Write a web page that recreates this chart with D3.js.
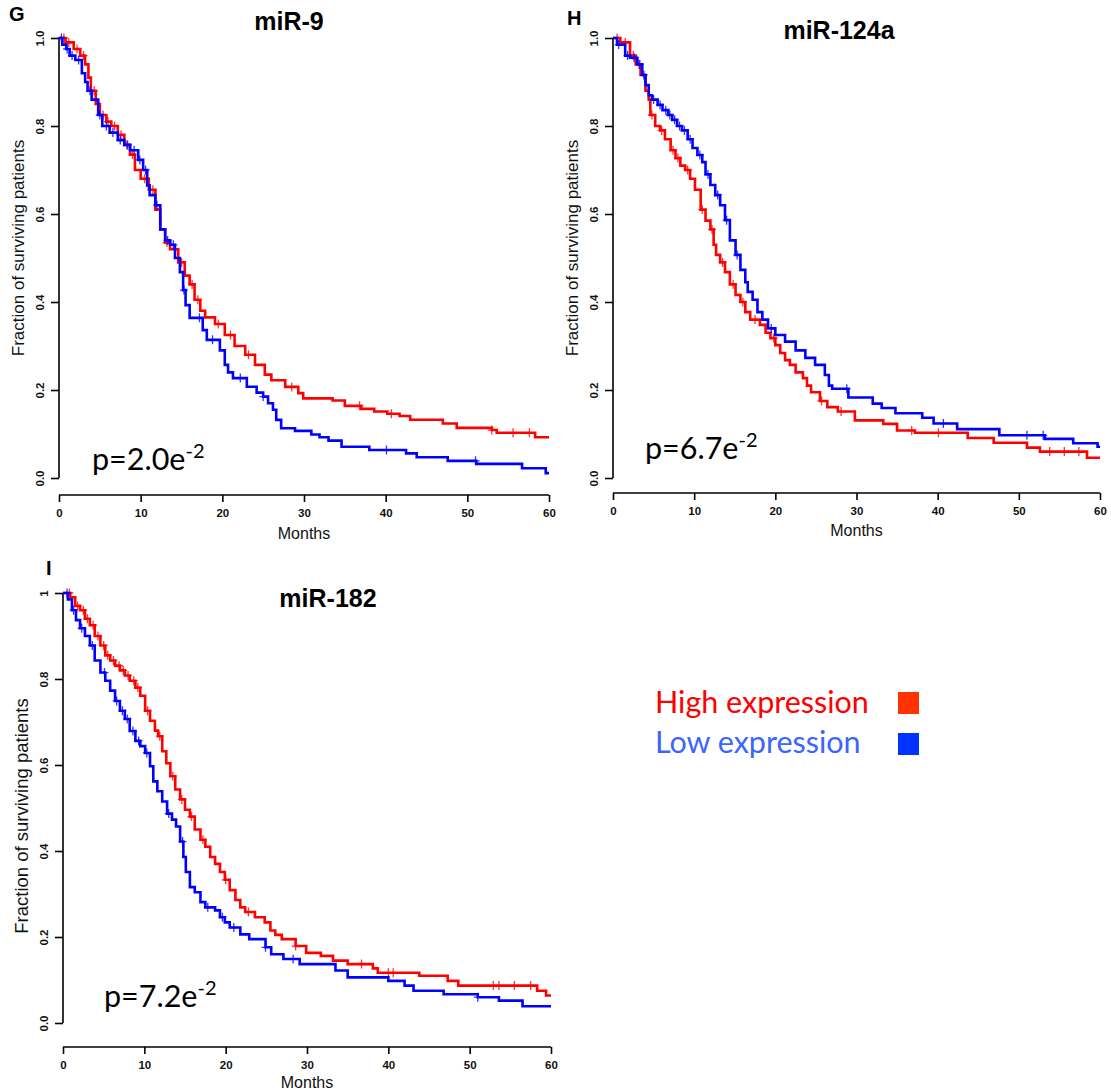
<!DOCTYPE html>
<html>
<head>
<meta charset="utf-8">
<script src="https://cdn.jsdelivr.net/npm/d3@7"></script>
<style>
  body { margin: 0; background: #fff; }
  svg { display: block; }
</style>
</head>
<body>
<svg id="chart" width="1111" height="1092"></svg>
<script>
// x axis ticks (months) and y ticks
const monthTicks = [0, 10, 20, 30, 40, 50, 60]
const fracTicks = [0, 0.2, 0.4, 0.6, 0.8, 1]
const fracLabelsA = ['0.0', '0.2', '0.4', '0.6', '0.8', '1.0']
const fracLabelsB = ['0.0', '0.2', '0.4', '0.6', '0.8', '1']

// miR-9 : [month, survival] after each drop
const mir9High = [[0,1],[0.8,0.99],[1.8,0.975],[2.6,0.96],[3.2,0.94],[3.6,0.91],[3.9,0.88],[4.5,0.85],[5,0.825],[5.8,0.81],[6.4,0.8],[7.2,0.78],[8,0.757],[8.7,0.735],[9.3,0.7],[10,0.68],[11,0.655],[11.8,0.61],[12.4,0.565],[13,0.535],[13.6,0.52],[14.6,0.49],[15.4,0.46],[16,0.44],[16.6,0.405],[17.3,0.38],[17.9,0.365],[19.1,0.35],[20.3,0.325],[21.5,0.3],[22.8,0.28],[24,0.257],[25.2,0.235],[26,0.222],[27.7,0.207],[29.3,0.193],[29.9,0.181],[33.5,0.176],[35,0.164],[37,0.157],[38.6,0.151],[40.2,0.146],[41.7,0.141],[43,0.1325],[47,0.124],[48.7,0.114],[53,0.109],[53.6,0.103],[58.3,0.0925]]
const mir9HighCens = [0.6,1.2,2.2,3.0,4.3,5.4,6.0,6.8,7.6,8.3,9.0,10.5,11.5,13.2,14.2,15.0,16.3,17.0,19.5,21.0,23.2,28.5,36.8,40.7,53.0,55.6,57.6]
const mir9Low = [[0,1],[0.4,0.985],[0.9,0.975],[1.3,0.96],[2,0.95],[2.8,0.92],[3.2,0.9],[3.5,0.88],[4,0.86],[4.8,0.825],[5.3,0.8],[6.2,0.785],[7.2,0.768],[8,0.757],[8.7,0.745],[9.7,0.723],[10.3,0.7],[10.8,0.665],[11.1,0.643],[11.8,0.62],[12.4,0.565],[13,0.54],[13.6,0.53],[14.2,0.5],[14.8,0.468],[15.2,0.427],[15.5,0.393],[16,0.364],[17.6,0.336],[18.1,0.314],[19.7,0.29],[20.3,0.257],[20.7,0.24],[21.3,0.227],[23,0.2075],[24.2,0.194],[25,0.185],[25.6,0.17],[26.2,0.155],[26.6,0.132],[27.2,0.113],[28.9,0.107],[30.9,0.099],[31.9,0.0925],[33,0.085],[34.6,0.071],[38,0.0636],[42.5,0.056],[43.8,0.047],[47.6,0.039],[51.1,0.032],[56.7,0.022],[59.6,0.011]]
const mir9LowCens = [0.3,1.0,1.6,2.4,3.8,5.0,5.8,6.6,7.5,8.4,9.2,9.9,10.6,12.0,13.3,14.0,15.3,17.2,18.8,22.2,25.0,40.1,51.0]

// miR-124a
const mir124High = [[0,1],[0.9,0.99],[2.1,0.96],[2.8,0.94],[3.4,0.916],[4,0.88],[4.4,0.86],[4.6,0.825],[5.2,0.8],[5.8,0.79],[6.4,0.77],[7.1,0.745],[7.7,0.727],[8.3,0.71],[8.9,0.7],[9.5,0.68],[10.1,0.655],[10.8,0.61],[11.4,0.585],[12,0.565],[12.4,0.53],[12.7,0.507],[13.2,0.49],[13.8,0.468],[14.4,0.44],[15.1,0.416],[15.7,0.4],[16.3,0.377],[16.9,0.36],[18.1,0.348],[18.8,0.33],[19.4,0.318],[20,0.302],[20.6,0.284],[21.2,0.268],[21.8,0.257],[22.5,0.24],[23.4,0.227],[23.9,0.21],[24.4,0.195],[25.5,0.175],[26.4,0.161],[27.7,0.151],[29.8,0.131],[33.3,0.123],[35,0.108],[37.2,0.103],[43.7,0.091],[46.9,0.08],[51,0.069],[52.6,0.06],[58.4,0.046]]
const mir124HighCens = [0.5,1.5,2.5,3.2,4.8,6.0,7.4,8.0,9.2,11.0,12.2,13.5,14.8,16.0,17.5,19.8,25.7,28.1,36.8,40.1,53.8,55.6,57.4]
const mir124Low = [[0,1],[0.5,0.985],[1.5,0.96],[2.1,0.955],[3,0.94],[3.6,0.916],[4,0.893],[4.4,0.87],[4.8,0.86],[5.5,0.848],[6.1,0.836],[6.8,0.825],[7.3,0.814],[7.9,0.8],[8.5,0.79],[9.2,0.77],[9.8,0.75],[10.4,0.734],[11,0.718],[11.4,0.69],[12,0.666],[12.6,0.643],[13.2,0.62],[13.8,0.586],[14.4,0.54],[15.1,0.507],[15.7,0.473],[16.3,0.445],[16.6,0.423],[17.2,0.405],[17.8,0.377],[18.4,0.36],[19.1,0.34],[20,0.325],[21.2,0.31],[22.5,0.29],[23.7,0.273],[24.9,0.257],[26.1,0.234],[26.6,0.21],[27,0.203],[29,0.183],[32,0.169],[33.1,0.159],[34.8,0.147],[38.1,0.137],[39.5,0.124],[42.4,0.111],[47.6,0.097],[53.2,0.089],[56.7,0.079],[59.7,0.071]]
const mir124LowCens = [0.7,1.8,2.6,3.3,3.8,5.0,5.8,6.5,7.0,7.6,8.2,8.8,9.5,10.7,11.7,12.9,14.0,15.3,19.5,28.8,40.7,51.0,53.0]

// miR-182
const mir182High = [[0,1],[0.9,0.99],[1.5,0.97],[2.1,0.96],[2.7,0.94],[3.3,0.925],[3.9,0.9],[4.6,0.878],[5.2,0.855],[5.8,0.843],[6.4,0.831],[7,0.82],[7.6,0.808],[8.2,0.796],[8.9,0.78],[9.5,0.761],[10.1,0.726],[10.7,0.703],[11.3,0.68],[11.7,0.667],[12.2,0.632],[12.7,0.604],[13.2,0.574],[13.8,0.543],[14.4,0.52],[15,0.496],[15.6,0.48],[16.2,0.45],[16.9,0.426],[17.5,0.41],[18.1,0.386],[18.7,0.37],[19.3,0.351],[19.9,0.333],[20.5,0.309],[21.2,0.286],[21.8,0.269],[22.4,0.258],[23.6,0.246],[24.8,0.234],[25.5,0.215],[26.1,0.205],[26.9,0.195],[28.6,0.179],[29.9,0.163],[31.7,0.156],[33.2,0.145],[35,0.137],[38.1,0.127],[38.7,0.117],[43.8,0.11],[47.3,0.098],[48.6,0.087],[58.3,0.075],[59.4,0.064]]
const mir182HighCens = [0.8,1.8,2.5,3.0,3.7,4.3,5.0,5.5,6.2,6.9,7.4,8.0,8.7,9.2,10.4,11.9,13.5,14.6,15.8,17.2,20.0,22.8,28.6,36.7,40.0,40.6,52.9,53.6,55.5,57.5]
const mir182Low = [[0,1],[0.6,0.985],[1.1,0.96],[1.6,0.937],[2.1,0.918],[2.7,0.9],[3.3,0.878],[3.9,0.843],[4.6,0.815],[5.2,0.796],[5.8,0.773],[6.4,0.749],[7,0.726],[7.6,0.707],[8.2,0.679],[8.9,0.656],[9.5,0.644],[10.1,0.628],[10.7,0.597],[11.1,0.562],[11.6,0.539],[12.2,0.515],[12.8,0.487],[13.4,0.473],[13.9,0.457],[14.4,0.422],[14.8,0.386],[15.1,0.351],[15.6,0.316],[16.2,0.304],[16.9,0.281],[17.5,0.269],[18.7,0.262],[19.3,0.246],[19.9,0.234],[20.5,0.222],[21.8,0.206],[22.9,0.195],[24.9,0.176],[25.6,0.16],[27.1,0.149],[29.1,0.137],[33.5,0.122],[35,0.106],[40,0.098],[42,0.087],[43.1,0.075],[46.8,0.067],[51,0.06],[53.6,0.052],[56.5,0.039]]
const mir182LowCens = [0.5,1.3,2.3,3.6,5.1,6.6,7.3,7.9,8.6,9.3,10.3,13.0,14.7,17.8,19.6,21.0,24.9,28.3,51.0]

const legendLabels = ['High expression', 'Low expression']

const RED = '#ff0000'
const BLUE = '#0000ff'

const svg = d3.select('#chart')
svg.append('rect').attr('width', 1111).attr('height', 1092).attr('fill', '#fff')

const panels = [
  { letter: 'G', lx: 9, ly: 21, title: 'miR-9', tx: 289, ty: 30,
    left: 59, right: 549, top: 38, bottom: 478, axisY: 495, monthsY: 539,
    ylab: 24, ylabMid: 248, yfs: 17,
    fracLabels: fracLabelsA, p: '2.0', px: 92, py: 470,
    high: mir9High, highCens: mir9HighCens, low: mir9Low, lowCens: mir9LowCens },
  { letter: 'H', lx: 567, ly: 25, title: 'miR-124a', tx: 839, ty: 39,
    left: 613, right: 1100, top: 38, bottom: 478, axisY: 493, monthsY: 536,
    ylab: 578, ylabMid: 248, yfs: 17,
    fracLabels: fracLabelsA, p: '6.7', px: 645, py: 459,
    high: mir124High, highCens: mir124HighCens, low: mir124Low, lowCens: mir124LowCens },
  { letter: 'I', lx: 46, ly: 575, title: 'miR-182', tx: 328, ty: 607,
    left: 63, right: 551, top: 593, bottom: 1023, axisY: 1047, monthsY: 1088,
    ylab: 28, ylabMid: 816, yfs: 18.5,
    fracLabels: fracLabelsB, p: '7.2', px: 104, py: 1007,
    high: mir182High, highCens: mir182HighCens, low: mir182Low, lowCens: mir182LowCens }
]

function survAt(steps, t) {
  let s = 1
  for (const d of steps) {
    if (d[0] <= t) s = d[1]
  }
  return s
}

function drawPanel(cfg) {
  const g = svg.append('g')
  const x = d3.scaleLinear().domain([0, 60]).range([cfg.left, cfg.right])
  const y = d3.scaleLinear().domain([0, 1]).range([cfg.bottom, cfg.top])

  // y axis
  const yAxis = d3.axisLeft(y).tickValues(fracTicks).tickSize(8).tickFormat((d, i) => cfg.fracLabels[i])
  const ya = g.append('g').attr('transform', `translate(${cfg.left},0)`).call(yAxis)
  ya.select('.domain').attr('d', `M0,${cfg.bottom}V${cfg.top}`).attr('stroke-width', 1.6)
  ya.selectAll('.tick line').attr('stroke-width', 1.6)
  ya.selectAll('.tick text')
    .attr('font-family', 'Liberation Sans, Arial, sans-serif').attr('font-size', 11.5).attr('font-weight', 'bold')
    .attr('fill', '#111')
    .attr('x', 0).attr('dy', 0)
    .attr('text-anchor', 'middle')
    .attr('transform', 'translate(-15,0) rotate(-90)')

  // x axis
  const xAxis = d3.axisBottom(x).tickValues(monthTicks).tickSize(7)
  const xa = g.append('g').attr('transform', `translate(0,${cfg.axisY})`).call(xAxis)
  xa.select('.domain').attr('d', `M${cfg.left},0H${cfg.right}`).attr('stroke-width', 1.6)
  xa.selectAll('.tick line').attr('stroke-width', 1.6)
  xa.selectAll('.tick text')
    .attr('font-family', 'Liberation Sans, Arial, sans-serif').attr('font-size', 11.5).attr('font-weight', 'bold')
    .attr('fill', '#111').attr('y', 14)

  g.append('text')
    .attr('x', (cfg.left + cfg.right) / 2).attr('y', cfg.monthsY)
    .attr('text-anchor', 'middle')
    .attr('font-family', 'Liberation Sans, Arial, sans-serif').attr('font-size', 16)
    .attr('fill', '#111')
    .text('Months')

  g.append('text')
    .attr('transform', `translate(${cfg.ylab},${cfg.ylabMid}) rotate(-90)`)
    .attr('text-anchor', 'middle')
    .attr('font-family', 'Liberation Sans, Arial, sans-serif').attr('font-size', cfg.yfs)
    .attr('fill', '#111')
    .text('Fraction of surviving patients')

  // title and panel letter
  g.append('text').attr('x', cfg.tx).attr('y', cfg.ty).attr('text-anchor', 'middle')
    .attr('font-family', 'Liberation Sans, Arial, sans-serif').attr('font-size', 25).attr('font-weight', 'bold')
    .text(cfg.title)
  g.append('text').attr('x', cfg.lx).attr('y', cfg.ly)
    .attr('font-family', 'Liberation Sans, Arial, sans-serif').attr('font-size', 20).attr('font-weight', 'bold')
    .text(cfg.letter)

  // p value
  const pt = g.append('text').attr('x', cfg.px).attr('y', cfg.py)
    .attr('font-family', 'Lato, Open Sans, sans-serif').attr('font-size', 30.5).attr('fill', '#000')
  pt.append('tspan').text('p=' + cfg.p + 'e')
  pt.append('tspan').attr('dy', -12).attr('font-size', 20).text('-2')

  const line = d3.line()
    .x(d => x(d[0]))
    .y(d => y(d[1]))
    .curve(d3.curveStepAfter)

  const series = [
    { steps: cfg.high, cens: cfg.highCens, color: RED },
    { steps: cfg.low, cens: cfg.lowCens, color: BLUE }
  ]
  series.forEach(s => {
    const pts = s.steps.concat([[60, s.steps[s.steps.length - 1][1]]])
    g.append('path').attr('d', line(pts))
      .attr('fill', 'none').attr('stroke', s.color).attr('stroke-width', 2.6)
    g.selectAll(null).data(s.cens).enter().append('path')
      .attr('d', t => {
        const cx = x(t), cy = y(survAt(s.steps, t))
        return `M${cx - 4},${cy}H${cx + 4}M${cx},${cy - 4.5}V${cy + 4.5}`
      })
      .attr('stroke', s.color).attr('stroke-width', 1.3).attr('fill', 'none').attr('opacity', 0.8)
  })
}

panels.forEach(drawPanel)

// legend
const legColors = ['#ff0000', '#3a66ff']
const legBoxes = ['#ff3300', '#0033ff']
const leg = svg.append('g')
legendLabels.forEach((lab, i) => {
  leg.append('text').attr('x', 655).attr('y', 713 + i * 40)
    .attr('font-family', 'Lato, Open Sans, sans-serif').attr('font-size', 30.5)
    .attr('fill', legColors[i]).text(lab)
  leg.append('rect').attr('x', 898).attr('y', 692 + i * 41).attr('width', 21).attr('height', 22)
    .attr('fill', legBoxes[i])
})
</script>
</body>
</html>
